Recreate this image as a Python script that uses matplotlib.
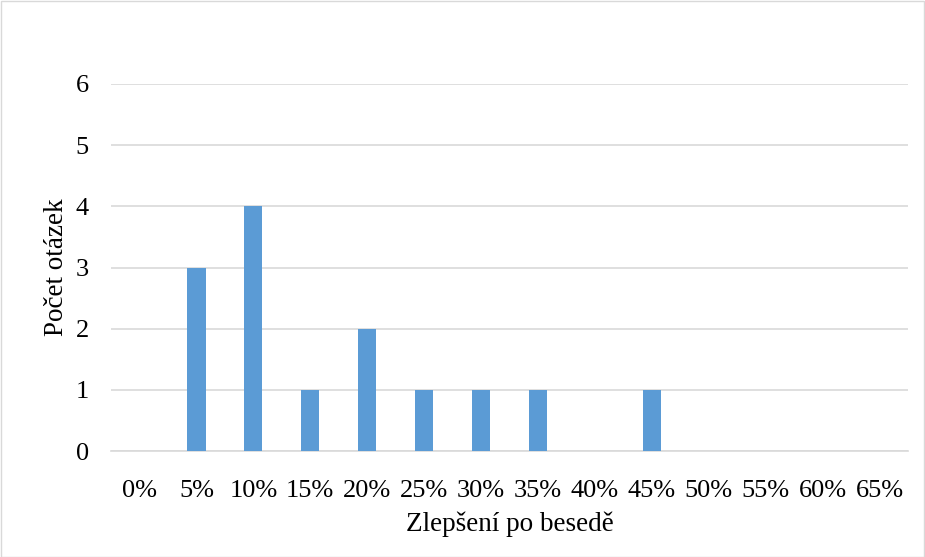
import matplotlib
matplotlib.use("Agg")
import matplotlib.pyplot as plt
from matplotlib.patches import Rectangle

categories = ["0%", "5%", "10%", "15%", "20%", "25%", "30%", "35%", "40%", "45%", "50%", "55%", "60%", "65%"]
counts = [0, 3, 4, 1, 2, 1, 1, 1, 0, 1, 0, 0, 0, 0]
yticks = [0, 1, 2, 3, 4, 5, 6]

plt.rcParams['font.family'] = ['Liberation Serif', 'DejaVu Serif']

W, H = 925, 557
fig = plt.figure(figsize=(W / 100, H / 100), dpi=100)
ax = fig.add_axes([111 / W, 1 - 451 / H, (908 - 111) / W, (451 - 84) / H])

x = list(range(len(categories)))
ax.bar(x, counts, width=0.32, color="#5B9BD5", zorder=3)
ax.set_xlim(-0.5, len(categories) - 0.5)
ax.set_ylim(0, 6)
ax.set_yticks(yticks)
ax.set_xticks(x)
ax.set_xticklabels(categories)
ax.yaxis.grid(True, color="#D9D9D9", linewidth=1.2, zorder=0)
for s in ["top", "right", "left"]:
    ax.spines[s].set_visible(False)
ax.spines["bottom"].set_color("#D9D9D9")
ax.spines["bottom"].set_linewidth(1.2)
ax.tick_params(axis="both", length=0, labelsize=19, colors="black")
ax.tick_params(axis="x", pad=21)
ax.tick_params(axis="y", pad=16)
ax.set_xlabel("Zlepšení po besedě", fontsize=19.5, labelpad=7)
ax.set_ylabel("Počet otázek", fontsize=19.5, labelpad=5)

fig.patches.append(Rectangle((0.5 / W, 0.5 / H), 1 - 1.5 / W, 1 - 1.5 / H, transform=fig.transFigure,
                             fill=False, edgecolor="#D9D9D9", linewidth=1))

fig.savefig("out.png", dpi=100)
